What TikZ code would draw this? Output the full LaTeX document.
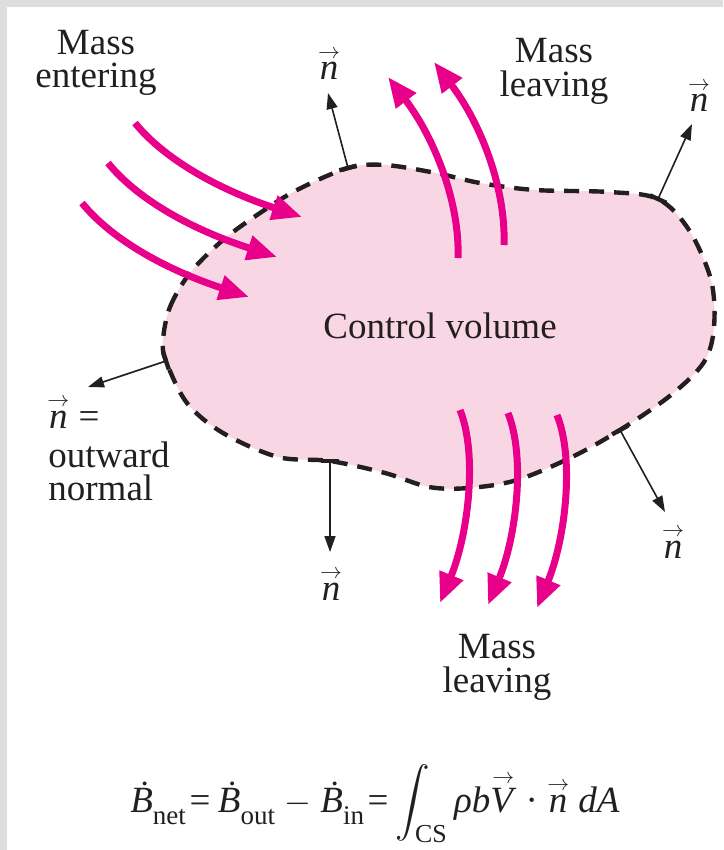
\documentclass[tikz,border=0pt]{standalone}
\usepackage{amsmath}
\usepackage{fontspec}
\setmainfont{Liberation Serif}
\usetikzlibrary{arrows.meta,calc}
\definecolor{cvpink}{RGB}{249,214,227}
\definecolor{flow}{RGB}{232,0,138}
\definecolor{framegray}{RGB}{222,222,222}
\definecolor{ink}{RGB}{35,31,32}
\newcommand{\arrowover}[1]{\leavevmode\vbox{\offinterlineskip\halign{\hfil##\hfil\cr{\fontsize{11}{11}\selectfont$\rightarrow$}\cr\noalign{\kern2pt}#1\cr}}}
\newcommand{\nvec}{\arrowover{\textit{n}}}
\newcommand{\lowsub}[1]{\raisebox{-0.33em}{\fontsize{13.5}{13.5}\selectfont #1}}
\begin{document}
\begin{tikzpicture}[x=0.5pt,y=-0.5pt,
  lbl/.style={font=\fontsize{18.5}{20}\selectfont, text=ink, inner sep=0pt},
  flowarrow/.style={draw=flow, line width=3.5pt, -{Triangle[length=15pt,width=12pt]}},
  normalarrow/.style={draw=ink, line width=0.8pt, -{Triangle[length=8pt,width=5.5pt]}},
  foottick/.style={draw=ink, line width=2.2pt},
  cvline/.style={draw=ink, fill=cvpink, line width=2.2pt, dash pattern=on 7.5pt off 5pt}]
\useasboundingbox (0,0) rectangle (723,850);
\fill[framegray] (0,0) rectangle (723,7);
\fill[framegray] (0,0) rectangle (7,850);

% control volume
\draw[cvline] plot[smooth cycle, tension=0.55] coordinates {
 (163,340) (170,307) (190,273) (223,240) (260,213) (297,190) (348,168)
 (385,165) (436,173) (480,183) (535,190) (609,192) (658,199) (689,230)
 (711,280) (714,327) (704,362) (671,395) (620,430) (572,457) (517,480)
 (469,488) (429,487) (385,473) (330,461) (278,457) (223,433) (187,403)
 (166,361)};
\node[lbl, anchor=base] (cv) at (440,338) {Control volume};

% feet and tips of normals
\coordinate (ftop) at (348,168);   \coordinate (ttop) at (328,93);
\coordinate (fright) at (658,199); \coordinate (tright) at (692,124);
\coordinate (fleft) at (166,361);  \coordinate (tleft) at (88,387);
\coordinate (fbot) at (330,461);   \coordinate (tbot) at (330,552);
\coordinate (fbr) at (620,430);    \coordinate (tbr) at (665,512);
\foreach \f/\t in {ftop/ttop,fright/tright,fleft/tleft,fbot/tbot,fbr/tbr}{
  \draw[foottick] ($(\f)!4.5pt!90:(\t)$) -- ($(\f)!4.5pt!-90:(\t)$);
  \draw[normalarrow] (\f) -- (\t);
}

% entering arrows
\coordinate (e1s) at (135,123); \coordinate (e1t) at (302,217);
\coordinate (e2s) at (108,163); \coordinate (e2t) at (277,257);
\coordinate (e3s) at (82,203);  \coordinate (e3t) at (249,297);
\draw[flowarrow] (e1s) .. controls (165,160) and (220,190) .. (e1t);
\draw[flowarrow] (e2s) .. controls (138,200) and (193,230) .. (e2t);
\draw[flowarrow] (e3s) .. controls (112,240) and (167,270) .. (e3t);

% leaving arrows (top)
\coordinate (u1s) at (458,258); \coordinate (u1t) at (388,77);
\coordinate (u2s) at (504,245); \coordinate (u2t) at (434,62);
\draw[flowarrow] (u1s) .. controls (460,205) and (436,140) .. (u1t);
\draw[flowarrow] (u2s) .. controls (506,190) and (482,125) .. (u2t);

% leaving arrows (bottom)
\coordinate (d1s) at (460,410); \coordinate (d1t) at (440,603);
\coordinate (d2s) at (508,413); \coordinate (d2t) at (488,605);
\coordinate (d3s) at (557,415); \coordinate (d3t) at (537,608);
\draw[flowarrow] (d1s) .. controls (478,455) and (468,535) .. (d1t);
\draw[flowarrow] (d2s) .. controls (526,458) and (516,538) .. (d2t);
\draw[flowarrow] (d3s) .. controls (575,460) and (565,540) .. (d3t);

% labels
\node[lbl, anchor=base] (me1) at (96,55) {Mass};
\node[lbl, anchor=base] (me2) at (96,88) {entering};
\node[lbl, anchor=base] (ml1) at (554,63) {Mass};
\node[lbl, anchor=base] (ml2) at (554,97) {leaving};
\node[lbl, anchor=base] (mb1) at (497,658) {Mass};
\node[lbl, anchor=base] (mb2) at (497,692) {leaving};

\node[lbl, anchor=base] (ntop) at (329,80) {\nvec};
\node[lbl, anchor=base] (nright) at (699,112) {\nvec};
\node[lbl, anchor=base] (nbot) at (331,600) {\nvec};
\node[lbl, anchor=base] (nbr) at (673,558) {\nvec};
\node[lbl, anchor=base west] (nl1) at (47,428) {\nvec\ =};
\node[lbl, anchor=base west] (nl2) at (48,467) {outward};
\node[lbl, anchor=base west] (nl3) at (48,500) {normal};

\node[lbl, anchor=base] (eq) at (375,812)
 {\textit{\.B}\lowsub{net}\hspace{0.1em}=\hspace{0.2em}\textit{\.B}\lowsub{out} $-$ \textit{\.B}\lowsub{in}\hspace{0.1em}=\hspace{0.2em}$\displaystyle\int_{\text{CS}}$\,\textit{ρb}\arrowover{\textit{V}} · \nvec\ \textit{dA}};
\end{tikzpicture}
\end{document}
